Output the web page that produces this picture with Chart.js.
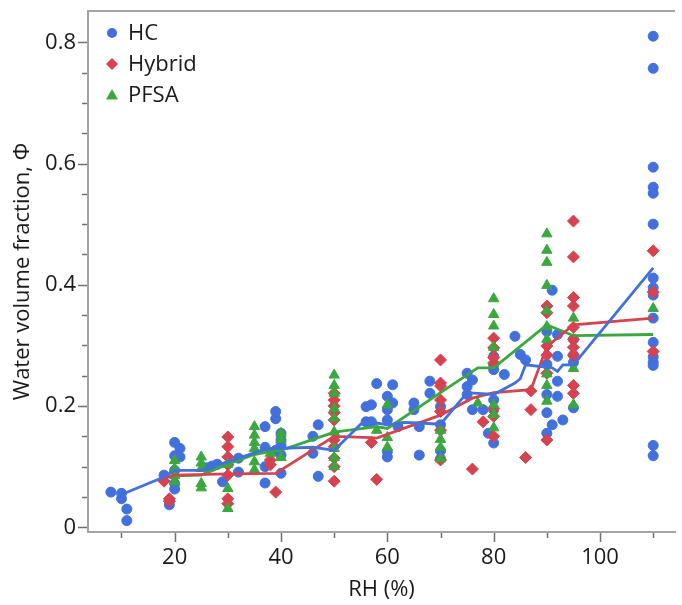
<!DOCTYPE html>
<html>
<head>
<meta charset="utf-8">
<script src="https://cdn.jsdelivr.net/npm/chart.js@4.4.1/dist/chart.umd.min.js"></script>
<style>
  html, body { margin: 0; padding: 0; background: #fff; overflow: hidden; }
  #wrap { position: relative; width: 682px; height: 605px; }
</style>
</head>
<body>
<div id="wrap"><canvas id="grafik"></canvas></div>
<script>
// --- data ---
const hcX = [8, 10, 10, 11, 11, 18, 19, 19, 20, 20, 20, 20, 20, 21, 21, 26, 27, 28, 29, 32, 32,
  37, 37, 37, 37, 39, 39, 39, 40, 40, 40, 40, 40, 46, 46, 47, 47, 56, 56, 57, 57, 58,
  60, 60, 60, 60, 60, 61, 61, 62, 65, 65, 66, 66, 68, 68, 70, 70, 70, 70,
  75, 75, 75, 76, 76, 78, 79, 80, 80, 80, 80, 80, 80, 82, 84, 85, 86,
  90, 90, 90, 90, 90, 91, 91, 92, 92, 92, 92, 93, 95, 95, 95, 95,
  110, 110, 110, 110, 110, 110, 110, 110, 110, 110, 110, 110, 110, 110, 110, 110];
const hcY = [0.058, 0.056, 0.047, 0.030, 0.011, 0.086, 0.044, 0.037, 0.140, 0.118, 0.094, 0.072, 0.063, 0.130, 0.116,
  0.098, 0.101, 0.104, 0.075, 0.114, 0.091,
  0.166, 0.132, 0.100, 0.073, 0.191, 0.179, 0.127, 0.155, 0.144, 0.135, 0.119, 0.089,
  0.150, 0.122, 0.169, 0.084, 0.199, 0.174, 0.202, 0.174, 0.237,
  0.216, 0.194, 0.177, 0.125, 0.116, 0.235, 0.205, 0.166, 0.205, 0.194, 0.166, 0.119, 0.241, 0.221,
  0.199, 0.169, 0.126, 0.113,
  0.254, 0.232, 0.219, 0.243, 0.194, 0.194, 0.155, 0.282, 0.268, 0.260, 0.210, 0.194, 0.139,
  0.252, 0.315, 0.285, 0.276,
  0.323, 0.269, 0.219, 0.189, 0.155, 0.391, 0.169, 0.318, 0.282, 0.241, 0.216, 0.177,
  0.310, 0.284, 0.272, 0.197,
  0.810, 0.757, 0.594, 0.561, 0.551, 0.500, 0.411, 0.395, 0.383, 0.345, 0.305, 0.281, 0.272, 0.267, 0.135, 0.118];

const hybX = [18, 19, 19, 30, 30, 30, 30, 30, 30, 30, 38, 38, 39,
  50, 50, 50, 50, 50, 50, 50, 50, 50, 50, 57, 58,
  70, 70, 70, 70, 70, 70, 70, 76, 78, 80, 80, 80, 80, 80, 80, 80, 86, 87, 87,
  90, 90, 90, 90, 90, 90, 95, 95, 95, 95, 95, 95, 95, 95, 95, 95, 110, 110, 110];
const hybY = [0.076, 0.047, 0.043, 0.149, 0.133, 0.116, 0.103, 0.086, 0.047, 0.039, 0.111, 0.103, 0.058,
  0.221, 0.210, 0.200, 0.189, 0.177, 0.144, 0.133, 0.114, 0.100, 0.076, 0.140, 0.079,
  0.276, 0.238, 0.233, 0.210, 0.191, 0.160, 0.111, 0.096, 0.174,
  0.312, 0.296, 0.280, 0.271, 0.196, 0.183, 0.150, 0.115, 0.225, 0.194,
  0.365, 0.354, 0.299, 0.284, 0.254, 0.144,
  0.505, 0.446, 0.379, 0.365, 0.330, 0.310, 0.297, 0.284, 0.234, 0.221, 0.456, 0.388, 0.290];

const pfsaX = [20, 20, 20, 20, 25, 25, 25, 25, 25, 30, 30, 30, 35, 35, 35, 35, 35, 35, 38, 40, 40, 40,
  50, 50, 50, 50, 50, 50, 50, 50, 50, 58, 60, 60, 60, 70, 70, 70, 70, 77,
  80, 80, 80, 80, 80, 80, 80, 90, 90, 90, 90, 90, 90, 90, 90, 90, 90, 95, 95, 95, 110];
const pfsaY = [0.110, 0.097, 0.085, 0.075, 0.116, 0.106, 0.097, 0.072, 0.065, 0.104, 0.064, 0.031,
  0.166, 0.152, 0.140, 0.130, 0.108, 0.095, 0.122, 0.155, 0.145, 0.115,
  0.251, 0.234, 0.221, 0.196, 0.180, 0.157, 0.130, 0.115, 0.100, 0.160, 0.202, 0.148, 0.132,
  0.160, 0.145, 0.132, 0.113, 0.205,
  0.377, 0.351, 0.332, 0.297, 0.202, 0.186, 0.164,
  0.484, 0.457, 0.437, 0.399, 0.357, 0.331, 0.310, 0.253, 0.234, 0.208, 0.345, 0.262, 0.202, 0.361];

// mean lines
const hcLineX = [10, 18, 20, 25, 28, 30, 37, 40, 46, 50, 55, 58, 60, 63, 66, 70, 75, 80, 84, 85, 86, 91, 92, 93, 95, 110];
const hcLineY = [0.054, 0.083, 0.094, 0.094, 0.103, 0.108, 0.129, 0.130, 0.132, 0.127, 0.170, 0.172, 0.169, 0.173,
  0.172, 0.170, 0.222, 0.219, 0.238, 0.245, 0.268, 0.263, 0.257, 0.268, 0.268, 0.428];
const hybLineX = [18, 20, 30, 39, 50, 57, 58, 70, 76, 80, 87, 90, 95, 110];
const hybLineY = [0.081, 0.086, 0.088, 0.089, 0.150, 0.148, 0.147, 0.185, 0.213, 0.222, 0.227, 0.298, 0.334, 0.345];
const pfsaLineX = [20, 25, 30, 35, 38, 40, 50, 58, 60, 70, 77, 80, 90, 95, 110];
const pfsaLineY = [0.085, 0.086, 0.104, 0.120, 0.125, 0.127, 0.157, 0.166, 0.163, 0.222, 0.263, 0.263, 0.334, 0.316, 0.318];

const xTicks = [10, 20, 30, 40, 50, 60, 70, 80, 90, 100, 110];
const xLabels = [20, 40, 60, 80, 100];
const yTicks = [0, 0.05, 0.1, 0.15, 0.2, 0.25, 0.3, 0.35, 0.4, 0.45, 0.5, 0.55, 0.6, 0.65, 0.7, 0.75, 0.8];
const yLabels = [0, 0.2, 0.4, 0.6, 0.8];

const seriesNames = ['HC', 'Hybrid', 'PFSA'];
const seriesColors = ['#4270dc', '#d6424f', '#3aa83e'];
const seriesStyles = ['circle', 'rectRot', 'triangle'];

const warnaSumbu = '#a3a3a3';
const warnaTick = '#707070';
const huruf = "'Open Sans', 'Noto Sans', sans-serif";

function pasang(xs, ys) {
  return xs.map((x, i) => ({ x: x, y: ys[i] }));
}

function samaDengan(list, v) {
  return list.some(t => Math.abs(t - v) < 1e-9);
}

const titikSet = (label, data, i, r) => ({
  label: label,
  data: data,
  pointStyle: seriesStyles[i],
  pointRadius: r,
  pointBackgroundColor: seriesColors[i],
  pointBorderColor: seriesColors[i],
  pointBorderWidth: 1,
  showLine: false
});

const garisSet = (data, i) => ({
  label: '',
  data: data,
  showLine: true,
  pointRadius: 0,
  borderColor: seriesColors[i],
  borderWidth: 2.8,
  fill: false,
  tension: 0
});

const sumbuPlugin = {
  id: 'sumbu',
  afterDraw(chart) {
    const { ctx, chartArea, scales } = chart;
    ctx.save();
    // top frame line
    ctx.strokeStyle = warnaSumbu;
    ctx.lineWidth = 2;
    ctx.beginPath();
    ctx.moveTo(chartArea.left, chartArea.top);
    ctx.lineTo(chartArea.right, chartArea.top);
    ctx.stroke();

    // tick marks
    ctx.strokeStyle = warnaTick;
    ctx.lineWidth = 1.5;
    xTicks.forEach(v => {
      const px = Math.round(scales.x.getPixelForValue(v)) + 0.5;
      const len = samaDengan(xLabels, v) ? 9 : 5;
      ctx.beginPath();
      ctx.moveTo(px, chartArea.bottom + 1);
      ctx.lineTo(px, chartArea.bottom + 1 + len);
      ctx.stroke();
    });
    yTicks.forEach(v => {
      const py = Math.round(scales.y.getPixelForValue(v)) + 0.5;
      const len = samaDengan(yLabels, v) ? 9 : 5;
      ctx.beginPath();
      ctx.moveTo(chartArea.left - 1, py);
      ctx.lineTo(chartArea.left - 1 - len, py);
      ctx.stroke();
    });

    // legend inside plot
    ctx.font = '22px ' + huruf;
    ctx.textBaseline = 'middle';
    ctx.textAlign = 'left';
    seriesNames.forEach((nama, i) => {
      const mx = chartArea.left + 24;
      const my = chartArea.top + 22 + i * 31;
      ctx.fillStyle = seriesColors[i];
      ctx.beginPath();
      if (seriesStyles[i] === 'circle') {
        ctx.arc(mx, my, 5, 0, Math.PI * 2);
      } else if (seriesStyles[i] === 'rectRot') {
        ctx.moveTo(mx, my - 6); ctx.lineTo(mx + 6, my); ctx.lineTo(mx, my + 6); ctx.lineTo(mx - 6, my);
        ctx.closePath();
      } else {
        ctx.moveTo(mx, my - 6); ctx.lineTo(mx + 6, my + 4.5); ctx.lineTo(mx - 6, my + 4.5);
        ctx.closePath();
      }
      ctx.fill();
      ctx.fillStyle = '#1a1a1a';
      ctx.fillText(nama, mx + 16, my + 1);
    });
    ctx.restore();
  }
};

const ctx = document.getElementById('grafik').getContext('2d');

const chart = new Chart(ctx, {
  type: 'scatter',
  data: {
    datasets: [
      garisSet(pasang(hcLineX, hcLineY), 0),
      garisSet(pasang(hybLineX, hybLineY), 1),
      garisSet(pasang(pfsaLineX, pfsaLineY), 2),
      titikSet('PFSA', pasang(pfsaX, pfsaY), 2, 6),
      titikSet('Hybrid', pasang(hybX, hybY), 1, 6),
      titikSet('HC', pasang(hcX, hcY), 0, 5)
    ]
  },
  options: {
    responsive: true,
    maintainAspectRatio: false,
    animation: false,
    layout: { padding: { top: 11, right: 0, bottom: 0, left: 0 } },
    plugins: {
      legend: { display: false },
      tooltip: { enabled: false }
    },
    scales: {
      x: {
        type: 'linear',
        min: 3.7,
        max: 114.1,
        afterFit: s => { s.height = 73; s.paddingLeft = 0; s.paddingRight = 0; },
        afterBuildTicks: s => { s.ticks = xTicks.map(v => ({ value: v })); },
        grid: { display: false, drawTicks: false },
        border: { display: true, color: warnaSumbu, width: 2 },
        ticks: {
          padding: 13,
          color: '#1a1a1a',
          font: { size: 22, family: huruf },
          maxRotation: 0,
          autoSkip: false,
          callback: v => samaDengan(xLabels, v) ? String(v) : ''
        },
        title: {
          display: true,
          text: 'RH (%)',
          color: '#1a1a1a',
          font: { size: 22, family: huruf },
          padding: { top: 2, bottom: 2 }
        }
      },
      y: {
        type: 'linear',
        min: -0.0078,
        max: 0.8516,
        afterFit: s => { s.width = 88; s.paddingTop = 0; s.paddingBottom = 0; },
        afterBuildTicks: s => { s.ticks = yTicks.map(v => ({ value: v })); },
        grid: { display: false, drawTicks: false },
        border: { display: true, color: warnaSumbu, width: 2 },
        ticks: {
          padding: 12,
          color: '#1a1a1a',
          font: { size: 22, family: huruf },
          autoSkip: false,
          callback: v => samaDengan(yLabels, v) ? (v === 0 ? '0' : v.toFixed(1)) : ''
        },
        title: {
          display: true,
          text: 'Water volume fraction, Φ',
          color: '#1a1a1a',
          font: { size: 22, family: huruf },
          padding: { top: 10, bottom: 10 }
        }
      }
    }
  },
  plugins: [sumbuPlugin]
});
</script>
</body>
</html>
